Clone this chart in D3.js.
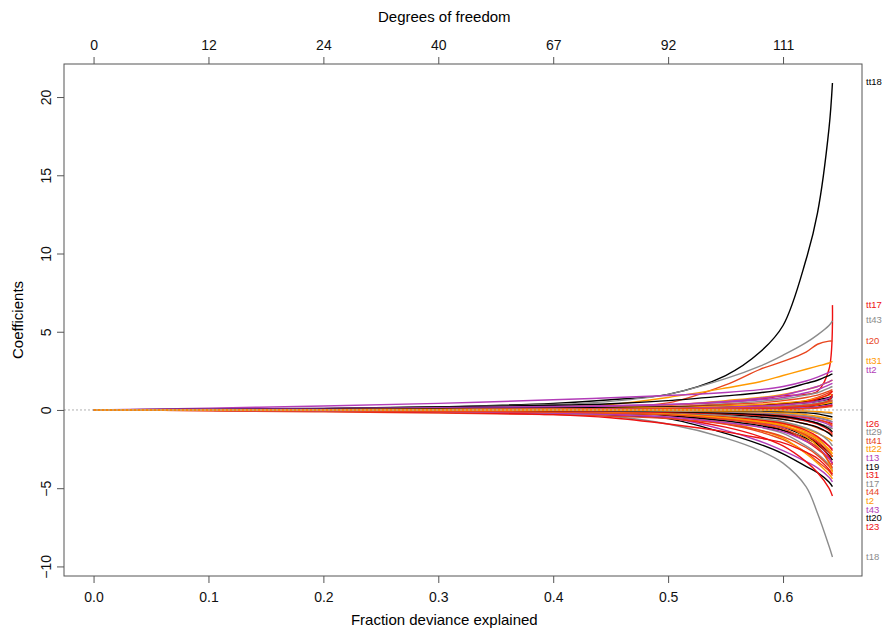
<!doctype html>
<head>
  <meta charset="utf-8">
  <script src="https://cdnjs.cloudflare.com/ajax/libs/d3/7.8.2/d3.min.js"></script>
</head>
<style>
    body { margin: 0; background: white; }
    svg { display: block; font-family: "Liberation Sans", Arial, sans-serif; }
</style>
<body>
    <div id="chart"></div>
    <script>
        // fraction of deviance explained at which the coefficients were read
        const devRatio = [0, 0.1, 0.2, 0.3, 0.4, 0.45, 0.5, 0.55, 0.58, 0.6, 0.62, 0.63, 0.64, 0.643];

        // tick labels
        const fracTicks = [0, 0.1, 0.2, 0.3, 0.4, 0.5, 0.6];
        const dfTicks = [0, 12, 24, 40, 67, 92, 111];
        const coefTicks = [-10, -5, 0, 5, 10, 15, 20];

        // variables, in plotting order
        const varNames = [
            "tt18", "tt17", "tt43", "t20", "tt31", "tt2",
            "t19", "t26", "tt29", "tt41", "tt22", "t13",
            "tt20", "t31", "t17", "t44", "t2", "t43",
            "t1", "t23", "t18", "t3", "t4", "t5",
            "t6", "t7", "t8", "t9", "t10", "t11",
            "t12", "t14", "t15", "t16", "t21", "t22",
            "t24", "t25", "t27", "t28", "t29", "t30",
            "t32", "t33", "t34", "t35", "t36", "t37",
            "t38", "t39", "t40", "t41", "t42", "tt1",
            "tt3", "tt4", "tt5", "tt6", "tt7", "tt8",
            "tt9", "tt10", "tt11", "tt12", "tt13"
        ];

        // coefficient paths, one row per variable (same order as varNames)
        const coefPaths = [
            [0, .02, .08, .2, .42, .65, 1.0, 2.2, 3.7, 5.4, 9.6, 12.6, 18.0, 20.9],
            [0, .01, .03, .06, .12, .18, .3, .5, .7, .9, 1.0, 1.2, 2.6, 6.7],
            [0, .02, .08, .18, .35, .55, 1.0, 2.0, 2.8, 3.5, 4.3, 4.8, 5.4, 5.7],
            [0, .01, .03, .08, .15, .25, .45, 1.6, 2.6, 3.1, 3.7, 4.2, 4.4, 4.4],
            [0, .01, .04, .1, .2, .35, .8, 1.4, 1.8, 2.2, 2.6, 2.8, 3.0, 3.1],
            [0, .12, .25, .42, .65, .78, .92, 1.12, 1.3, 1.5, 1.85, 2.1, 2.4, 2.5],

            [0, 0, 0, 0, -.04, -.08, -.2, -.5, -.8, -1.1, -1.7, -2.1, -2.7, -3.0],
            [0, 0, 0, 0, 0, 0, -.05, -.15, -.25, -.35, -.5, -.65, -.8, -.9],
            [0, 0, 0, 0, 0, -.03, -.08, -.2, -.3, -.45, -.7, -.85, -1.1, -1.2],
            [0, 0, 0, 0, -.03, -.06, -.12, -.3, -.45, -.6, -.9, -1.15, -1.45, -1.6],
            [0, 0, 0, -.02, -.05, -.1, -.2, -.4, -.6, -.8, -1.2, -1.5, -1.85, -2.0],
            [0, -.01, -.03, -.06, -.12, -.18, -.3, -.6, -.85, -1.1, -1.5, -1.8, -2.3, -2.5],

            [0, -.02, -.06, -.12, -.25, -.35, -.55, -1.5, -2.2, -2.8, -3.6, -4.0, -4.6, -4.9],
            [0, 0, 0, -.02, -.06, -.12, -.25, -.6, -.9, -1.3, -2.0, -2.5, -3.1, -3.4],
            [0, 0, 0, -.02, -.08, -.15, -.3, -.7, -1.1, -1.5, -2.3, -2.8, -3.5, -3.8],
            [0, 0, -.01, -.04, -.1, -.18, -.35, -.9, -1.4, -1.9, -2.7, -3.3, -3.9, -4.2],
            [0, 0, -.02, -.05, -.1, -.15, -.3, -.8, -1.3, -1.8, -2.8, -3.4, -4.1, -4.4],
            [0, -.01, -.04, -.1, -.2, -.3, -.5, -1.3, -2.0, -2.6, -3.3, -3.7, -4.3, -4.6],

            [0, .05, .1, .2, .3, .4, .6, .9, 1.1, 1.3, 1.7, 1.9, 2.2, 2.3],
            [0, -.02, -.05, -.1, -.2, -.3, -.5, -1.1, -1.7, -2.3, -3.3, -4.0, -5.0, -5.5],
            [0, -.02, -.05, -.1, -.25, -.4, -.9, -1.8, -2.6, -3.4, -4.9, -6.6, -8.7, -9.4],
            [0, -.05, -.12, -.2, -.3, -.4, -.55, -.9, -1.3, -1.7, -2.4, -2.9, -3.6, -3.9],
            [0, 0, .02, .05, .1, .15, .3, .6, .8, 1.0, 1.3, 1.5, 1.8, 1.9],
            [0, .05, .1, .15, .22, .28, .35, .5, .65, .8, 1.1, 1.3, 1.6, 1.7],

            [0, 0, -.02, -.06, -.12, -.2, -.35, -.7, -1.0, -1.3, -1.8, -2.2, -2.9, -3.2],
            [0, -.03, -.08, -.15, -.3, -.5, -.9, -1.4, -1.8, -2.1, -2.7, -3.1, -3.8, -4.1],
            [0, 0, .01, .03, .08, .12, .2, .4, .55, .7, .95, 1.1, 1.4, 1.5],
            [0, 0, 0, .02, .05, .1, .2, .35, .45, .6, .8, .95, 1.2, 1.3],
            [0, -.02, -.05, -.1, -.15, -.2, -.3, -.5, -.7, -.9, -1.4, -1.8, -2.6, -3.0],
            [0, .02, .05, .1, .18, .25, .35, .55, .75, .95, 1.3, 1.5, 1.8, 1.9],

            [0, .02, .05, .08, .12, .15, .2, .25, .3, .35, .45, .55, .7, .8],
            [0, 0, -.03, -.06, -.1, -.15, -.25, -.5, -.75, -1.0, -1.6, -2.1, -3.0, -3.5],
            [0, -.01, -.03, -.06, -.1, -.14, -.2, -.3, -.4, -.5, -.7, -.85, -1.1, -1.2],
            [0, .01, .02, .04, .06, .08, .12, .2, .3, .4, .6, .8, 1.1, 1.2],
            [0, 0, -.02, -.04, -.08, -.12, -.2, -.45, -.7, -1.0, -1.7, -2.3, -3.4, -4.0],
            [0, -.02, -.05, -.1, -.2, -.3, -.45, -.8, -1.1, -1.4, -2.0, -2.4, -3.1, -3.4],

            [0, 0, 0, .01, .03, .05, .1, .2, .3, .4, .55, .65, .8, .9],
            [0, 0, -.01, -.03, -.07, -.12, -.22, -.45, -.65, -.85, -1.3, -1.7, -2.3, -2.6],
            [0, 0, 0, 0, .02, .04, .08, .15, .2, .25, .35, .45, .6, .65],
            [0, -.01, -.03, -.06, -.12, -.18, -.3, -.55, -.8, -1.05, -1.6, -2.0, -2.7, -3.0],
            [0, .01, .02, .04, .06, .1, .15, .25, .35, .45, .6, .75, .95, 1.0],
            [0, 0, 0, -.02, -.05, -.08, -.12, -.2, -.3, -.4, -.55, -.7, -.95, -1.1],

            [0, -.01, -.02, -.04, -.08, -.12, -.18, -.3, -.45, -.6, -.9, -1.1, -1.5, -1.7],
            [0, 0, 0, .01, .02, .04, .08, .15, .25, .35, .5, .7, 1.0, 1.2],
            [0, 0, -.01, -.03, -.06, -.1, -.18, -.35, -.55, -.75, -1.15, -1.45, -2.0, -2.3],
            [0, 0, 0, 0, -.02, -.04, -.08, -.15, -.22, -.3, -.45, -.6, -.85, -1.0],
            [0, -.01, -.02, -.05, -.1, -.16, -.26, -.5, -.75, -1.0, -1.5, -1.9, -2.5, -2.8],
            [0, 0, .01, .02, .04, .06, .1, .18, .25, .32, .45, .55, .75, .85],

            [0, 0, 0, 0, 0, .01, .03, .06, .1, .15, .22, .28, .4, .45],
            [0, -.01, -.02, -.04, -.07, -.1, -.15, -.25, -.35, -.45, -.7, -.9, -1.3, -1.5],
            [0, 0, 0, 0, 0, .02, .05, .1, .15, .2, .3, .38, .5, .55],
            [0, -.02, -.04, -.08, -.14, -.2, -.3, -.6, -.9, -1.2, -1.9, -2.4, -3.3, -3.7],
            [0, 0, 0, 0, .01, .02, .04, .08, .12, .16, .25, .32, .45, .5],
            [0, 0, 0, 0, -.01, -.03, -.06, -.12, -.18, -.25, -.4, -.5, -.7, -.8],

            [0, 0, 0, -.01, -.03, -.05, -.1, -.2, -.3, -.42, -.65, -.85, -1.2, -1.4],
            [0, 0, 0, 0, 0, 0, .02, .05, .1, .15, .25, .35, .6, 1.0],
            [0, 0, 0, 0, -.02, -.04, -.07, -.12, -.18, -.25, -.38, -.48, -.65, -.75],
            [0, 0, .01, .02, .03, .05, .08, .12, .16, .2, .3, .4, .55, .6],
            [0, 0, 0, 0, 0, -.01, -.03, -.08, -.12, -.18, -.3, -.4, -.55, -.6],
            [0, 0, 0, 0, 0, 0, .01, .03, .05, .08, .14, .2, .3, .35],

            [0, 0, 0, 0, 0, 0, -.01, -.03, -.06, -.1, -.18, -.25, -.4, -.45],
            [0, 0, 0, 0, 0, 0, 0, .02, .04, .06, .1, .15, .25, .3],
            [0, 0, 0, 0, 0, 0, 0, -.02, -.04, -.06, -.1, -.15, -.22, -.25],
            [0, 0, 0, 0, 0, 0, 0, 0, .02, .04, .08, .12, .2, .22],
            [0, 0, 0, 0, 0, 0, 0, 0, -.01, -.03, -.06, -.1, -.15, -.18]
        ];

        // variables named at the right edge
        const labelled = ["tt18", "tt17", "tt43", "t20", "tt31", "tt2",
            "t26", "tt29", "tt41", "tt22", "t13", "t19", "t31", "t17",
            "t44", "t2", "t43", "tt20", "t23", "t18"];

        // colours cycle by variable index
        const palette = ["#000000", "#ee1111", "#8c8c8c", "#e8461e", "#ff9a00", "#b23cb8"];

        const width = 887, height = 633;
        const box = {left: 64, right: 862, top: 64, bottom: 576};

        const svg = d3.select('#chart')
            .append('svg')
            .attr('width', width)
            .attr('height', height);

        // R style 4% padding around the data range
        const xExt = d3.extent(devRatio);
        const yExt = d3.extent(coefPaths.flat());
        const xPad = (xExt[1] - xExt[0]) * 0.04;
        const yPad = (yExt[1] - yExt[0]) * 0.04;

        const x = d3.scaleLinear()
            .domain([xExt[0] - xPad, xExt[1] + xPad])
            .range([box.left, box.right]);
        const y = d3.scaleLinear()
            .domain([yExt[0] - yPad, yExt[1] + yPad])
            .range([box.bottom, box.top]);

        const line = d3.line()
            .x((d, i) => x(devRatio[i]))
            .y(d => y(d))
            .curve(d3.curveCatmullRom.alpha(0.5));

        // coefficient paths
        svg.append('g')
            .selectAll('path')
            .data(coefPaths)
            .enter()
            .append('path')
            .attr('d', line)
            .attr('fill', 'none')
            .attr('stroke', (d, i) => palette[i % palette.length])
            .attr('stroke-width', 1.4);

        // dotted zero line on top
        svg.append('line')
            .attr('x1', box.left).attr('x2', box.right)
            .attr('y1', y(0)).attr('y2', y(0))
            .attr('stroke', '#b0b0b0')
            .attr('stroke-dasharray', '2,2');

        // frame
        svg.append('rect')
            .attr('x', box.left).attr('y', box.top)
            .attr('width', box.right - box.left)
            .attr('height', box.bottom - box.top)
            .attr('fill', 'none')
            .attr('stroke', '#555');

        // axes
        const styleAxis = g => {
            g.select('.domain').remove();
            g.selectAll('.tick line').attr('stroke', '#555');
            g.selectAll('.tick text').attr('font-size', 14).attr('fill', '#111')
                .attr('font-family', '"Liberation Sans", Arial, sans-serif');
        };

        svg.append('g')
            .attr('transform', `translate(0,${box.bottom})`)
            .call(d3.axisBottom(x).tickValues(fracTicks).tickFormat(d3.format('.1f')).tickSize(7).tickPadding(9))
            .call(styleAxis);

        svg.append('g')
            .attr('transform', `translate(0,${box.top})`)
            .call(d3.axisTop(x).tickValues(fracTicks).tickFormat((d, i) => dfTicks[i]).tickSize(7).tickPadding(7))
            .call(styleAxis);

        svg.append('g')
            .attr('transform', `translate(${box.left},0)`)
            .call(d3.axisLeft(y).tickValues(coefTicks).tickFormat(d => d < 0 ? '\u2212' + (-d) : d).tickSize(7).tickPadding(8))
            .call(styleAxis)
            .call(g => g.selectAll('.tick text')
                .attr('text-anchor', 'middle')
                .attr('dy', null)
                .attr('x', -17)
                .attr('dominant-baseline', 'middle')
                .attr('transform', 'rotate(-90,-17,0)'));

        // axis titles
        svg.append('text')
            .attr('x', (x(0) + x(0.6)) / 2 + 6)
            .attr('y', 625)
            .attr('text-anchor', 'middle')
            .attr('font-size', 15)
            .text('Fraction deviance explained');

        svg.append('text')
            .attr('x', (x(0) + x(0.6)) / 2 + 6)
            .attr('y', 22)
            .attr('text-anchor', 'middle')
            .attr('font-size', 15)
            .text('Degrees of freedom');

        svg.append('text')
            .attr('transform', `translate(23,${(box.top + box.bottom) / 2}) rotate(-90)`)
            .attr('text-anchor', 'middle')
            .attr('font-size', 15)
            .text('Coefficients');

        // right edge labels, pushed apart where they would overlap
        const ends = varNames
            .map((name, i) => ({name, i, end: coefPaths[i][coefPaths[i].length - 1]}))
            .filter(d => labelled.includes(d.name))
            .sort((a, b) => b.end - a.end);
        let prevY = -Infinity;
        ends.forEach(d => {
            d.ly = Math.max(y(d.end), prevY + 8.6);
            prevY = d.ly;
        });

        svg.append('g')
            .selectAll('text')
            .data(ends)
            .enter()
            .append('text')
            .attr('x', box.right + 4)
            .attr('y', d => d.ly)
            .attr('dominant-baseline', 'middle')
            .attr('font-size', 9.5)
            .attr('fill', d => palette[d.i % palette.length])
            .text(d => d.name);
    </script>
</body>
